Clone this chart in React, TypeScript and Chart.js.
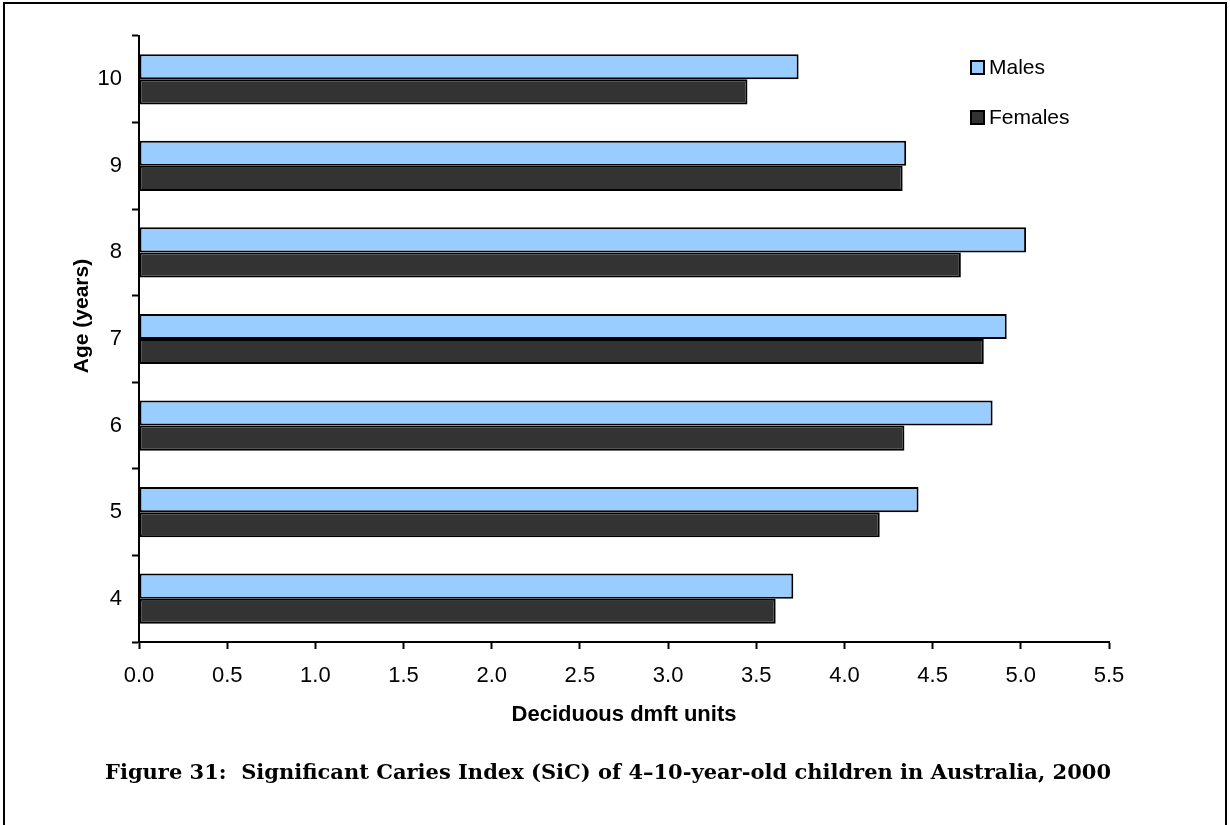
import React, { useEffect, useRef } from 'react';
import { Chart, registerables } from 'chart.js';

Chart.register(...registerables);

// Data (top to bottom as shown)
const ages: string[] = ['10', '9', '8', '7', '6', '5', '4'];
const males: number[] = [3.74, 4.35, 5.03, 4.92, 4.84, 4.42, 3.71];
const females: number[] = [3.45, 4.33, 4.66, 4.79, 4.34, 4.2, 3.61];
const seriesNames: string[] = ['Males', 'Females'];
const xMin = 0;
const xMax = 5.5;
const xStep = 0.5;
const xTitle = 'Deciduous dmft units';
const yTitle = 'Age (years)';
const caption = 'Figure 31:  Significant Caries Index (SiC) of 4\u201310-year-old children in Australia, 2000';

const SANS = "'Liberation Sans', Arial, sans-serif";

const legendPlugin = {
  id: 'customLegend',
  afterDraw(chart: any) {
    const ctx = chart.ctx;
    const ds = chart.data.datasets;
    const x0 = 971;
    const y0 = 67;
    const gap = 50;
    ctx.save();
    ds.forEach((d: any, i: number) => {
      const cy = y0 + i * gap;
      ctx.fillStyle = d.backgroundColor;
      ctx.fillRect(x0, cy - 6, 13, 13);
      ctx.lineWidth = 2;
      ctx.strokeStyle = '#000';
      ctx.strokeRect(x0, cy - 6, 13, 13);
      ctx.fillStyle = '#000';
      ctx.font = `21px ${SANS}`;
      ctx.textBaseline = 'middle';
      ctx.textAlign = 'left';
      ctx.fillText(d.label, x0 + 18, cy + 1);
    });
    ctx.restore();
  },
};

const yTitlePlugin = {
  id: 'yTitle',
  afterDraw(chart: any) {
    const ctx = chart.ctx;
    ctx.save();
    ctx.translate(82, 316);
    ctx.rotate(-Math.PI / 2);
    ctx.fillStyle = '#000';
    ctx.font = `bold 21px ${SANS}`;
    ctx.textAlign = 'center';
    ctx.textBaseline = 'middle';
    ctx.fillText(yTitle, 0, 0);
    ctx.restore();
  },
};

export default function App() {
  const canvasRef = useRef<HTMLCanvasElement | null>(null);

  useEffect(() => {
    const canvas = canvasRef.current;
    if (!canvas) return;
    const chart = new Chart(canvas, {
      type: 'bar',
      data: {
        labels: ages,
        datasets: [
          {
            label: seriesNames[0],
            data: males,
            backgroundColor: '#99CCFF',
            borderColor: '#000000',
            borderWidth: 2,
            borderSkipped: false,
            categoryPercentage: 0.58,
            barPercentage: 1.0,
          },
          {
            label: seriesNames[1],
            data: females,
            backgroundColor: '#333333',
            borderColor: '#000000',
            borderWidth: 2,
            borderSkipped: false,
            categoryPercentage: 0.58,
            barPercentage: 1.0,
          },
        ],
      },
      options: {
        indexAxis: 'y',
        responsive: false,
        animation: false,
        maintainAspectRatio: false,
        layout: { padding: { left: 0, top: 36, right: 121, bottom: 93 } },
        plugins: {
          legend: { display: false },
          tooltip: { enabled: false },
          title: { display: false },
        },
        scales: {
          x: {
            type: 'linear',
            min: xMin,
            max: xMax,
            ticks: {
              stepSize: xStep,
              color: '#000',
              font: { family: SANS, size: 22 },
              padding: 14,
              callback: (v: any) => Number(v).toFixed(1),
            },
            grid: {
              drawOnChartArea: false,
              drawTicks: true,
              tickLength: 7,
              tickWidth: 2,
              tickColor: '#000',
            },
            border: { display: true, color: '#000', width: 2 },
            title: {
              display: true,
              text: xTitle,
              color: '#000',
              font: { family: SANS, size: 22, weight: 'bold' },
              padding: { top: 0, bottom: 4 },
            },
            afterFit: (scale: any) => {
              scale.height = 90;
            },
          },
          y: {
            type: 'category',
            ticks: {
              color: '#000',
              font: { family: SANS, size: 22 },
              padding: 10,
            },
            grid: {
              offset: true,
              drawOnChartArea: false,
              drawTicks: true,
              tickLength: 7,
              tickWidth: 2,
              tickColor: '#000',
            },
            border: { display: true, color: '#000', width: 2 },
            title: { display: false, text: yTitle },
            afterFit: (scale: any) => {
              scale.width = 139;
            },
          },
        },
      },
      plugins: [legendPlugin, yTitlePlugin],
    } as any);
    return () => chart.destroy();
  }, []);

  return (
    <div
      style={{
        position: 'absolute',
        left: 0,
        top: 0,
        width: 1230,
        height: 825,
        overflow: 'hidden',
        background: '#fff',
      }}
    >
      <div
        style={{
          position: 'absolute',
          left: 3,
          top: 2,
          width: 1224,
          height: 840,
          border: '2px solid #000',
          boxSizing: 'border-box',
        }}
      />
      <canvas
        ref={canvasRef}
        width={1230}
        height={825}
        style={{ position: 'absolute', left: 0, top: 0, width: 1230, height: 825 }}
      />
      <div
        style={{
          position: 'absolute',
          left: 105,
          top: 758,
          whiteSpace: 'pre',
          fontFamily: "'DejaVu Serif', 'Liberation Serif', serif",
          fontWeight: 'bold',
          fontSize: 21,
          lineHeight: '28px',
          color: '#000',
        }}
      >
        {caption}
      </div>
    </div>
  );
}
